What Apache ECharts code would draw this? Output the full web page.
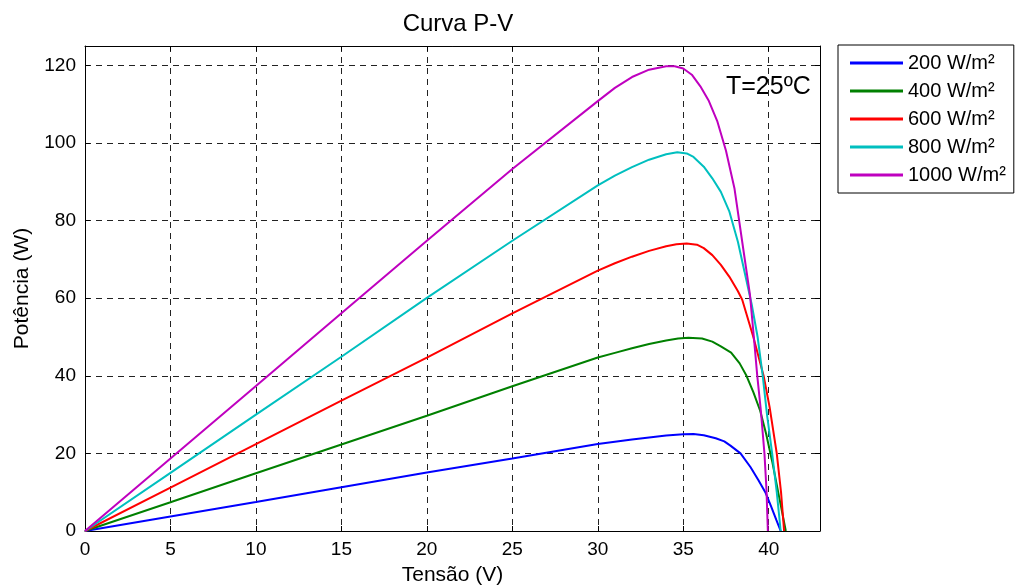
<!DOCTYPE html>
<html>
<head>
<meta charset="utf-8">
<script src="https://cdn.jsdelivr.net/npm/echarts@6/dist/echarts.min.js"></script>
<style>html,body{margin:0;padding:0;background:#fff}#c{width:1022px;height:586px}</style>
</head>
<body>
<div id="c"></div>
<script>
var seriesNames = ['200 W/m²', '400 W/m²', '600 W/m²', '800 W/m²', '1000 W/m²'];
var xTicks = [0, 5, 10, 15, 20, 25, 30, 35, 40];
var yTicks = [0, 20, 40, 60, 80, 100, 120];

var v200 = [0, 5, 10, 15, 20, 25, 30, 31, 32, 33, 34, 35, 35.6, 36.2, 36.9, 37.4, 37.76, 38.35, 38.93, 39.4, 39.8, 40.15, 40.45, 40.7];
var p200 = [0, 3.75, 7.5, 11.3, 15.1, 18.7, 22.4, 23.0, 23.6, 24.1, 24.6, 24.95, 25.0, 24.7, 23.9, 23.1, 22.0, 20.0, 16.5, 13.1, 10.0, 6.2, 2.8, 0];

var v400 = [0, 5, 10, 15, 20, 25, 30, 31, 32, 33, 34, 34.7, 35.3, 36.1, 36.7, 37.2, 37.8, 38.3, 38.7, 39.1, 39.5, 39.85, 40.2, 40.6, 41.0];
var p400 = [0, 7.4, 14.9, 22.3, 29.7, 37.3, 44.7, 45.9, 47.1, 48.2, 49.1, 49.6, 49.8, 49.6, 48.8, 47.6, 46.0, 43.2, 40.0, 35.8, 31.0, 25.0, 18.0, 9.0, 0];

var v600 = [0, 5, 10, 15, 20, 25, 30, 31, 32, 33, 34, 34.6, 35.2, 35.8, 36.2, 36.7, 37.2, 37.7, 38.2, 38.45, 39.1, 39.7, 40.05, 40.47, 40.72, 40.9];
var p600 = [0, 11.2, 22.4, 33.6, 44.7, 56.1, 67.1, 69.0, 70.7, 72.2, 73.4, 73.9, 74.1, 73.8, 72.9, 71.1, 68.6, 65.5, 61.8, 59.6, 50.0, 40.0, 32.0, 20.0, 10.0, 0];

var v800 = [0, 5, 10, 15, 20, 25, 30, 31, 32, 33, 34, 34.65, 35.2, 35.6, 36.2, 36.7, 37.2, 37.7, 38.2, 38.6, 39.0, 39.35, 39.65, 39.9, 40.2, 40.47, 40.7];
var p800 = [0, 15.0, 30.0, 44.9, 60.1, 74.8, 89.1, 91.6, 93.8, 95.7, 97.1, 97.6, 97.3, 96.4, 93.9, 90.9, 87.4, 82.3, 74.5, 66.5, 58.5, 50.0, 40.0, 30.0, 20.0, 10.0, 0];

var v1000 = [0, 5, 10, 15, 20, 25, 30, 31, 32, 33, 34, 34.5, 35, 35.5, 36, 36.5, 37, 37.5, 38, 38.5, 38.9, 39.13, 39.33, 39.54, 39.75, 39.87, 39.95];
var p1000 = [0, 18.7, 37.4, 56.1, 74.8, 93.3, 110.8, 114.2, 117.0, 118.9, 119.8, 119.8, 119.2, 117.6, 114.6, 110.8, 105.5, 98.0, 88.2, 73.0, 61.0, 50.0, 40.0, 31.0, 20.0, 10.5, 0];

var colors = ['#0000ff', '#008000', '#ff0000', '#00bfbf', '#bf00bf'];
var Vs = [v200, v400, v600, v800, v1000];
var Ps = [p200, p400, p600, p800, p1000];

function pairs(v, p) { return v.map(function (x, i) { return [x, p[i]]; }); }

var FONT = 'Liberation Sans';
var chart = echarts.init(document.getElementById('c'), null, { renderer: 'canvas' });

var gridLine = { show: true, lineStyle: { color: '#222', type: [6, 5], width: 1 } };

var option = {
  backgroundColor: '#fff',
  animation: false,
  color: colors,
  title: {
    text: 'Curva P-V', left: 453, top: 7, textAlign: 'center',
    textStyle: { fontFamily: FONT, fontSize: 24, fontWeight: 'normal', color: '#000' }
  },
  legend: {
    orient: 'vertical', left: 838, top: 45,
    data: seriesNames,
    icon: 'rect', itemWidth: 53, itemHeight: 3, itemGap: 8,
    padding: [8, 8, 8, 12],
    borderColor: '#000', borderWidth: 1,
    textStyle: { fontFamily: FONT, fontSize: 20, color: '#000', lineHeight: 20 }
  },
  grid: { left: 85, top: 46, right: 202, bottom: 55, containLabel: false, outerBoundsMode: 'none' },
  xAxis: [{
    type: 'value', min: 0, max: 43, interval: 5, position: 'bottom',
    name: 'Tensão (V)', nameLocation: 'middle', nameGap: 34,
    nameTextStyle: { fontFamily: FONT, fontSize: 21, color: '#000' },
    axisLine: { show: true, onZero: false, lineStyle: { color: '#000', width: 1 } },
    axisTick: { show: true, inside: true, length: 5, lineStyle: { color: '#000' } },
    axisLabel: { fontFamily: FONT, fontSize: 19, color: '#000', margin: 9, showMaxLabel: false },
    splitLine: gridLine
  }, {
    type: 'value', min: 0, max: 43, interval: 5, position: 'top',
    axisLine: { show: true, onZero: false, lineStyle: { color: '#000', width: 1 } },
    axisTick: { show: true, inside: true, length: 5, lineStyle: { color: '#000' } },
    axisLabel: { show: false }, splitLine: { show: false }
  }],
  yAxis: [{
    type: 'value', min: 0, max: 125, interval: 20, position: 'left',
    name: 'Potência (W)', nameLocation: 'middle', nameGap: 52, nameRotate: 90,
    nameTextStyle: { fontFamily: FONT, fontSize: 21, color: '#000' },
    axisLine: { show: true, onZero: false, lineStyle: { color: '#000', width: 1 } },
    axisTick: { show: true, inside: true, length: 5, lineStyle: { color: '#000' } },
    axisLabel: { fontFamily: FONT, fontSize: 19, color: '#000', margin: 9, showMaxLabel: false },
    splitLine: gridLine
  }, {
    type: 'value', min: 0, max: 125, interval: 20, position: 'right',
    axisLine: { show: true, onZero: false, lineStyle: { color: '#000', width: 1 } },
    axisTick: { show: true, inside: true, length: 5, lineStyle: { color: '#000' } },
    axisLabel: { show: false }, splitLine: { show: false }
  }],
  graphic: [{
    type: 'text', left: 726, top: 75,
    style: { text: 'T=25ºC', fontFamily: FONT, fontSize: 25, fill: '#000' }
  }],
  series: seriesNames.map(function (n, i) {
    return {
      name: n, type: 'line', xAxisIndex: 0, yAxisIndex: 0,
      data: pairs(Vs[i], Ps[i]),
      showSymbol: false, symbol: 'none', smooth: false,
      lineStyle: { width: 2, color: colors[i] }, itemStyle: { color: colors[i] },
      z: 3 + i
    };
  })
};
chart.setOption(option);
</script>
</body>
</html>
